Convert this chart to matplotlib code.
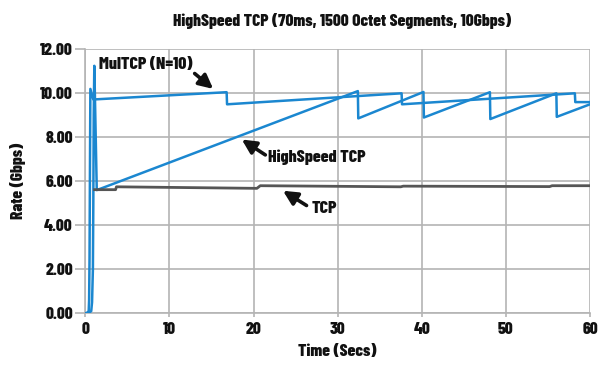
import matplotlib
matplotlib.use("Agg")
import matplotlib.pyplot as plt

# ---- data ----
mul_t = [0, 0.2, 0.4, 0.45, 0.5, 0.55, 0.6, 0.95, 16.8, 16.85, 37.6, 37.65, 58.2, 58.25, 60]
mul_v = [0, 0.02, 0.1, 0.6, 2.5, 6.5, 10.2, 9.72, 10.05, 9.5, 10.0, 9.5, 10.0, 9.6, 9.6]

hs_t = [0, 0.4, 0.7, 0.8, 0.9, 0.95, 1.0, 1.07, 1.36, 32.4, 32.45, 40.2, 40.25,
        48.1, 48.15, 56.0, 56.05, 60]
hs_v = [0, 0.02, 0.1, 0.5, 2.0, 5.0, 9.0, 11.25, 5.6, 10.1, 8.86, 10.06, 8.9,
        10.05, 8.83, 10.0, 8.93, 9.5]

tcp_t = [1.1, 3.6, 3.7, 20.4, 20.8, 37.5, 37.8, 55.2, 55.5, 60]
tcp_v = [5.62, 5.62, 5.75, 5.68, 5.8, 5.75, 5.78, 5.76, 5.8, 5.8]

x_ticks = [0, 10, 20, 30, 40, 50, 60]
y_ticks = [0, 2, 4, 6, 8, 10, 12]

title = "HighSpeed TCP (70ms, 1500 Octet Segments, 10Gbps)"
xlabel = "Time (Secs)"
ylabel = "Rate (Gbps)"

FONT = ['Barlow Condensed', 'DejaVu Sans']
plt.rcParams['font.family'] = FONT
plt.rcParams['font.weight'] = 800

BLUE = '#1b87d0'
GRAY = '#555555'
GRID = '#b4b4b4'
INK = '#111111'
W = 800

fig = plt.figure(figsize=(6.06, 3.71), dpi=100)
ax = fig.add_axes([0.1408, 0.1555, 0.8328, 0.7116])

ax.plot(mul_t, mul_v, color=BLUE, lw=1.8, zorder=3)
ax.plot(hs_t, hs_v, color=BLUE, lw=1.8, zorder=3)
ax.plot(tcp_t, tcp_v, color=GRAY, lw=2.0, zorder=4)

ax.set_xlim(0, 60)
ax.set_ylim(0, 12)
ax.set_xticks(x_ticks)
ax.set_yticks(y_ticks)
ax.set_xticklabels([str(v) for v in x_ticks], fontsize=12.5, fontweight=W, color=INK)
ax.set_yticklabels([f"{v:.2f}" for v in y_ticks], fontsize=12.5, fontweight=W, color=INK)
ax.grid(True, color=GRID, lw=1.2, zorder=0)
for s in ['top', 'right']:
    ax.spines[s].set_visible(False)
for s in ['left', 'bottom']:
    ax.spines[s].set_color(GRID)
    ax.spines[s].set_linewidth(1.2)
ax.tick_params(axis='y', colors=GRID, length=7, width=1.2, labelcolor=INK, pad=2)
ax.tick_params(axis='x', colors=GRID, length=3, width=1.2, labelcolor=INK, pad=3)

ax.set_xlabel(xlabel, fontsize=12.5, fontweight=W, color=INK, labelpad=5)
ax.set_ylabel(ylabel, fontsize=12.5, fontweight=W, color=INK, labelpad=10)
fig.text(0.565, 0.943, title, ha='center', va='center', fontsize=12.5, fontweight=W, color=INK)

arrow = dict(arrowstyle='-|>', lw=2.6, color=INK, mutation_scale=21, shrinkA=0, shrinkB=0)
ax.annotate("MulTCP (N=10)", xy=(15.2, 10.2), xytext=(1.64, 11.3), fontsize=12.8,
            fontweight=W, color=INK, va='center', ha='left', zorder=5)
ax.annotate("", xy=(15.2, 10.2), xytext=(13.0, 10.9), arrowprops=arrow, zorder=5)

ax.annotate("HighSpeed TCP", xy=(18.6, 7.9), xytext=(21.7, 7.1), fontsize=12.8,
            fontweight=W, color=INK, va='center', ha='left', zorder=5)
ax.annotate("", xy=(18.6, 7.9), xytext=(21.4, 7.2), arrowprops=arrow, zorder=5)

ax.annotate("TCP", xy=(23.5, 5.57), xytext=(26.9, 4.77), fontsize=12.8,
            fontweight=W, color=INK, va='center', ha='left', zorder=5)
ax.annotate("", xy=(23.5, 5.57), xytext=(26.3, 4.9), arrowprops=arrow, zorder=5)

fig.savefig("out.png", dpi=100, facecolor='white')
